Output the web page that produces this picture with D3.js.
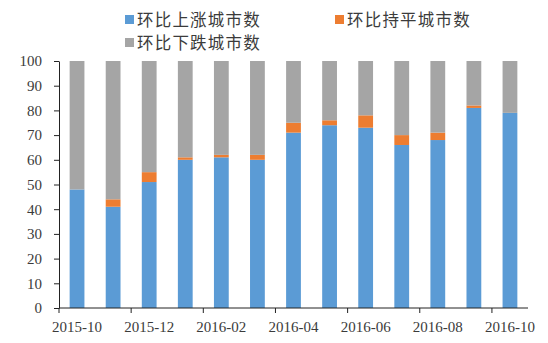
<!DOCTYPE html>
<html>
<head>
<meta charset="utf-8">
<script src="https://cdn.jsdelivr.net/npm/d3@7/dist/d3.min.js"></script>
<style>
  html, body { margin: 0; padding: 0; background: #ffffff; }
  svg { display: block; }
</style>
</head>
<body>
<svg id="chart" width="548" height="343"></svg>
<script>
// Monthly city counts: month-on-month up / flat / down
const months = ["2015-10","2015-11","2015-12","2016-01","2016-02","2016-03","2016-04",
                "2016-05","2016-06","2016-07","2016-08","2016-09","2016-10"];
const upCounts   = [48, 41, 51, 60, 61, 60, 71, 74, 73, 66, 68, 81, 79];
const flatCounts = [0, 3, 4, 1, 1, 2, 4, 2, 5, 4, 3, 1, 0];
const downCounts = [52, 56, 45, 39, 38, 38, 25, 24, 22, 30, 29, 18, 21];
const seriesNames = ["环比上涨城市数", "环比持平城市数", "环比下跌城市数"];
const seriesColors = ["#5b9bd5", "#ed7d31", "#a5a5a5"];
const yTicks = [0, 10, 20, 30, 40, 50, 60, 70, 80, 90, 100];
const labelMonths = ["2015-10","2015-12","2016-02","2016-04","2016-06","2016-08","2016-10"];

const rows = months.map((m, i) => ({ month: m, up: upCounts[i], flat: flatCounts[i], down: downCounts[i] }));
const keys = ["up", "flat", "down"];

const svg = d3.select("#chart");
const margin = { left: 59, right: 20, top: 61, bottom: 35 };
const W = 548, H = 343;

const x = d3.scaleBand().domain(months).range([margin.left, W - margin.right]).paddingInner(0).paddingOuter(0);
const y = d3.scaleLinear().domain([0, 100]).range([H - margin.bottom, margin.top]);

const barW = x.bandwidth() * 0.41;
const stack = d3.stack().keys(keys)(rows);

const textColor = "#3b3b3b";
const numFont = "'Liberation Serif', 'DejaVu Serif', serif";
const cjkFont = "'Noto Sans CJK SC', 'Noto Sans', sans-serif";

// stacked bars
svg.append("g").selectAll("g")
  .data(stack)
  .join("g")
  .attr("fill", (d, i) => seriesColors[i])
  .selectAll("rect")
  .data(d => d)
  .join("rect")
  .attr("x", d => x(d.data.month) + (x.bandwidth() - barW) / 2)
  .attr("width", barW)
  .attr("y", d => y(d[1]))
  .attr("height", d => Math.max(0, y(d[0]) - y(d[1])));

// y axis
const yAxis = svg.append("g")
  .attr("transform", `translate(${margin.left},0)`)
  .call(d3.axisLeft(y).tickValues(yTicks).tickSize(5).tickPadding(12).tickSizeOuter(0));
yAxis.select(".domain").attr("stroke", "#222");
yAxis.selectAll(".tick line").attr("stroke", "#222");
yAxis.selectAll("text").attr("fill", textColor).attr("font-family", numFont).attr("font-size", 15);

// x axis: ticks every two months at band edges, labels under band centres
const xg = svg.append("g").attr("transform", `translate(0,${H - margin.bottom})`);
xg.append("line")
  .attr("x1", margin.left).attr("x2", W - margin.right)
  .attr("y1", 0).attr("y2", 0)
  .attr("stroke", "#222");
xg.selectAll("line.tick")
  .data(labelMonths)
  .join("line")
  .attr("class", "tick")
  .attr("x1", d => x(d)).attr("x2", d => x(d))
  .attr("y1", 0).attr("y2", 5)
  .attr("stroke", "#222");
xg.selectAll("text")
  .data(labelMonths)
  .join("text")
  .attr("x", d => x(d) + x.bandwidth() / 2)
  .attr("y", 24)
  .attr("text-anchor", "middle")
  .attr("fill", textColor)
  .attr("font-family", numFont)
  .attr("font-size", 15)
  .text(d => d);

// legend
const legendPos = [[125, 13], [335, 13], [125, 36]];
const lg = svg.append("g");
seriesNames.forEach((name, i) => {
  const [lx, ly] = legendPos[i];
  lg.append("rect").attr("x", lx).attr("y", ly + 2).attr("width", 9).attr("height", 9).attr("fill", seriesColors[i]);
  lg.append("text")
    .attr("x", lx + 12).attr("y", ly + 13)
    .attr("fill", textColor)
    .attr("font-family", cjkFont)
    .attr("font-size", 16.5)
    .attr("letter-spacing", 1.2)
    .text(name);
});
</script>
</body>
</html>
